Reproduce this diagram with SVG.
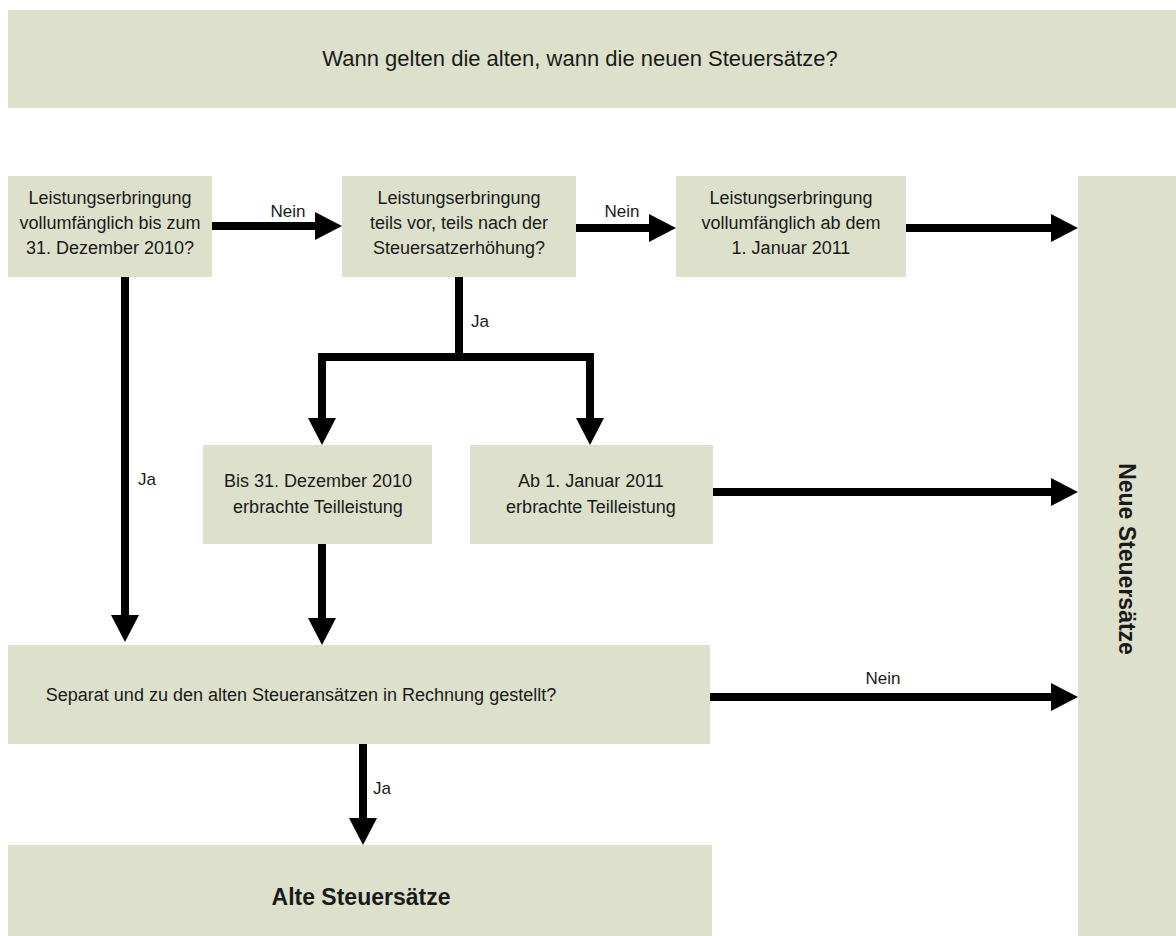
<svg xmlns="http://www.w3.org/2000/svg" width="1176" height="936" viewBox="0 0 1176 936">
<style>
.box{fill:#dde0cb}
.t{font-family:"Liberation Sans",Arial,sans-serif;font-size:18px;fill:#1a1a1a;text-anchor:middle}
.h{font-size:22px}
.b{font-weight:bold;font-size:23px}
.lbl{font-family:"Liberation Sans",Arial,sans-serif;font-size:17px;fill:#1a1a1a}
.c{stroke:#000;stroke-width:8;fill:none}
</style>
<defs>
<marker id="ah" markerUnits="userSpaceOnUse" markerWidth="27" markerHeight="28" refX="1" refY="14" orient="auto">
<path d="M0,0 L27,14 L0,28 z" fill="#000"/>
</marker>
</defs>
<rect width="1176" height="936" fill="#fff"/>
<g id="title"><rect class="box" x="8" y="10" width="1168" height="98"/><text class="t h" x="580" y="66">Wann gelten die alten, wann die neuen Steuersätze?</text></g>
<g id="q1"><rect class="box" x="8" y="176" width="204" height="101"/><text class="t" x="110" y="204">Leistungserbringung</text><text class="t" x="110" y="229">vollumfänglich bis zum</text><text class="t" x="110" y="254">31. Dezember 2010?</text></g>
<g id="q2"><rect class="box" x="342" y="176" width="234" height="101"/><text class="t" x="459" y="204">Leistungserbringung</text><text class="t" x="459" y="229">teils vor, teils nach der</text><text class="t" x="459" y="254">Steuersatzerhöhung?</text></g>
<g id="q3"><rect class="box" x="676" y="176" width="230" height="101"/><text class="t" x="791" y="204">Leistungserbringung</text><text class="t" x="791" y="229">vollumfänglich ab dem</text><text class="t" x="791" y="254">1. Januar 2011</text></g>
<g id="neu"><rect class="box" x="1078" y="176" width="98" height="760"/><text class="t b" transform="translate(1119,559) rotate(90)" x="0" y="0">Neue Steuersätze</text></g>
<g id="p1"><rect class="box" x="203" y="445" width="229" height="99"/><text class="t" x="318" y="487">Bis 31. Dezember 2010</text><text class="t" x="318" y="513">erbrachte Teilleistung</text></g>
<g id="p2"><rect class="box" x="470" y="445" width="243" height="99"/><text class="t" x="591" y="487">Ab 1. Januar 2011</text><text class="t" x="591" y="513">erbrachte Teilleistung</text></g>
<g id="q4"><rect class="box" x="8" y="645" width="702" height="99"/><text class="t" x="301" y="701">Separat und zu den alten Steueransätzen in Rechnung gestellt?</text></g>
<g id="alt"><rect class="box" x="8" y="845" width="704" height="91"/><text class="t b" x="361" y="905">Alte Steuersätze</text></g>
<g id="connectors">
<line class="c" x1="212" y1="226" x2="316" y2="226" marker-end="url(#ah)"/>
<line class="c" x1="576" y1="228" x2="650" y2="228" marker-end="url(#ah)"/>
<line class="c" x1="906" y1="228" x2="1052" y2="228" marker-end="url(#ah)"/>
<line class="c" x1="125" y1="277" x2="125" y2="616" marker-end="url(#ah)"/>
<path class="c" d="M459,277 V357"/>
<path class="c" d="M318,357 H594"/>
<line class="c" x1="322" y1="357" x2="322" y2="419" marker-end="url(#ah)"/>
<line class="c" x1="590" y1="357" x2="590" y2="419" marker-end="url(#ah)"/>
<line class="c" x1="713" y1="492" x2="1052" y2="492" marker-end="url(#ah)"/>
<line class="c" x1="322" y1="544" x2="322" y2="619" marker-end="url(#ah)"/>
<line class="c" x1="710" y1="697" x2="1052" y2="697" marker-end="url(#ah)"/>
<line class="c" x1="363" y1="744" x2="363" y2="819" marker-end="url(#ah)"/>
<text class="lbl" x="288" y="217" text-anchor="middle">Nein</text>
<text class="lbl" x="622" y="217" text-anchor="middle">Nein</text>
<text class="lbl" x="471" y="327">Ja</text>
<text class="lbl" x="138" y="485">Ja</text>
<text class="lbl" x="883" y="684" text-anchor="middle">Nein</text>
<text class="lbl" x="373" y="794">Ja</text>
</g>
</svg>
